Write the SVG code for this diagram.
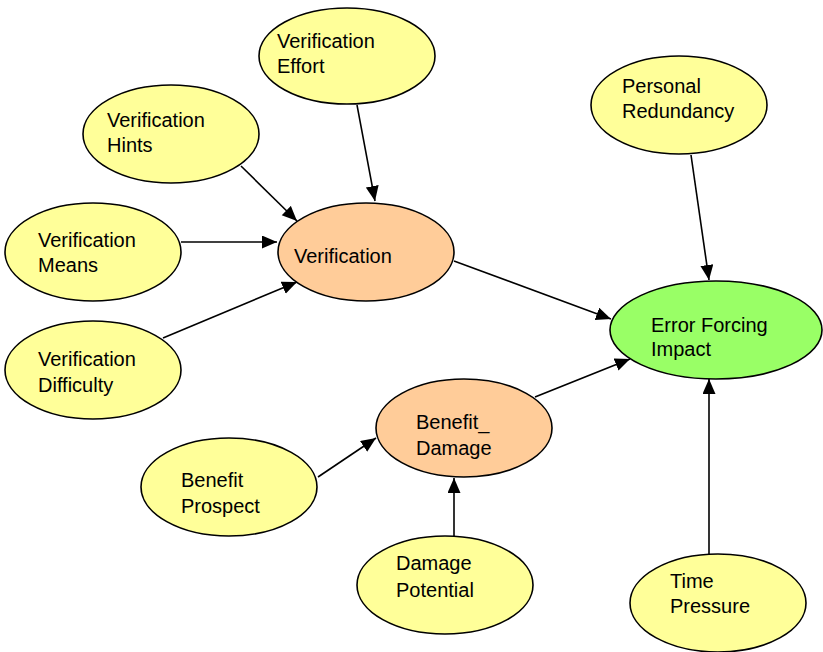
<svg xmlns="http://www.w3.org/2000/svg" width="823" height="652" viewBox="0 0 823 652">
<defs>
<style>
.n ellipse{stroke:#000;stroke-width:1.6}
.y{fill:#FFFF99}
.o{fill:#FFCC99}
.g{fill:#99FF66}
text{font-family:"Liberation Sans",Arial,sans-serif;font-size:20px;fill:#000}
#edges line{stroke:#000;stroke-width:1.6;marker-end:url(#arr)}
</style>
<marker id="arr" markerUnits="userSpaceOnUse" markerWidth="16" markerHeight="14" refX="15" refY="6.5" orient="auto">
<path d="M0,0 L15,6.5 L0,13 z" fill="#000"/>
</marker>
</defs>
<rect width="823" height="652" fill="#fff"/>
<g id="edges">
<line x1="357" y1="105" x2="375" y2="201"/>
<line x1="241" y1="166" x2="297" y2="221"/>
<line x1="181" y1="242" x2="277" y2="242"/>
<line x1="163" y1="338" x2="297" y2="282"/>
<line x1="454" y1="261" x2="611" y2="319"/>
<line x1="691" y1="155" x2="709" y2="280"/>
<line x1="535" y1="397" x2="630" y2="359"/>
<line x1="318" y1="477" x2="376" y2="438"/>
<line x1="454" y1="536" x2="454" y2="478"/>
<line x1="709" y1="554" x2="709" y2="379"/>
</g>
<g id="verification-effort" class="n"><ellipse class="y" cx="347" cy="56" rx="88" ry="48"/><text x="277" y="48">Verification</text><text x="277" y="73">Effort</text></g>
<g id="personal-redundancy" class="n"><ellipse class="y" cx="679" cy="105" rx="88" ry="49"/><text x="622" y="93">Personal</text><text x="622" y="118">Redundancy</text></g>
<g id="verification-hints" class="n"><ellipse class="y" cx="171" cy="134" rx="88" ry="49"/><text x="107" y="127">Verification</text><text x="107" y="152">Hints</text></g>
<g id="verification-means" class="n"><ellipse class="y" cx="93" cy="252" rx="88" ry="49"/><text x="38" y="247">Verification</text><text x="38" y="272">Means</text></g>
<g id="verification" class="n"><ellipse class="o" cx="366" cy="252" rx="88" ry="49"/><text x="294" y="263">Verification</text></g>
<g id="verification-difficulty" class="n"><ellipse class="y" cx="93" cy="370" rx="88" ry="49"/><text x="38" y="366">Verification</text><text x="38" y="392">Difficulty</text></g>
<g id="error-forcing-impact" class="n"><ellipse class="g" cx="716" cy="330" rx="106" ry="49"/><text x="651" y="332">Error Forcing</text><text x="651" y="356">Impact</text></g>
<g id="benefit-damage" class="n"><ellipse class="o" cx="464" cy="428" rx="88" ry="49"/><text x="416" y="429">Benefit_</text><text x="416" y="455">Damage</text></g>
<g id="benefit-prospect" class="n"><ellipse class="y" cx="229" cy="487" rx="88" ry="49"/><text x="181" y="487">Benefit</text><text x="181" y="513">Prospect</text></g>
<g id="damage-potential" class="n"><ellipse class="y" cx="445" cy="585" rx="88" ry="49"/><text x="396" y="570">Damage</text><text x="396" y="597">Potential</text></g>
<g id="time-pressure" class="n"><ellipse class="y" cx="718" cy="603" rx="88" ry="49"/><text x="670" y="588">Time</text><text x="670" y="613">Pressure</text></g>
</svg>
